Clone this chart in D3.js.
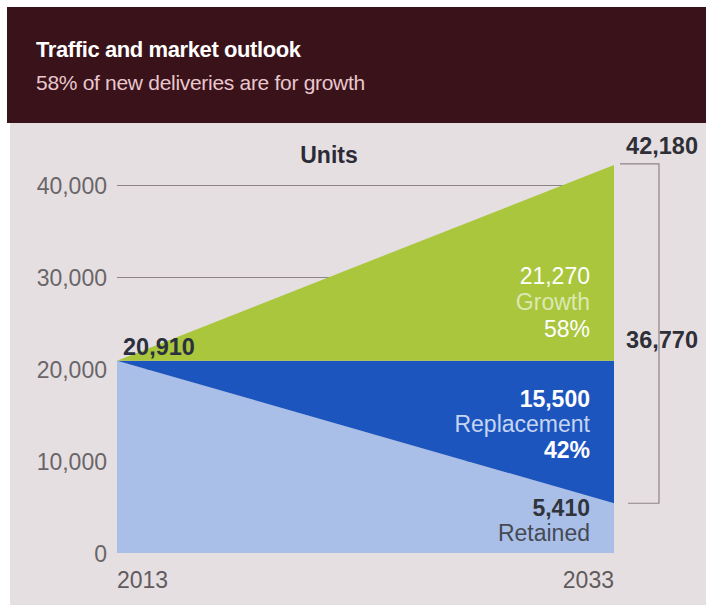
<!DOCTYPE html>
<html>
<head>
<meta charset="utf-8">
<script src="https://cdn.jsdelivr.net/npm/d3@7"></script>
<style>
  html, body { margin: 0; padding: 0; background: #ffffff; }
  svg { display: block; font-family: "Liberation Sans", Arial, Helvetica, sans-serif; }
</style>
</head>
<body>
<svg id="chart" width="706" height="605"></svg>
<script>
// ---- data ----
const years = [2013, 2033];
const retained = [20910, 5410];
const replacement = [0, 15500];
const growth = [0, 21270];
const yTicks = [0, 10000, 20000, 30000, 40000];
const seriesKeys = ["retained", "replacement", "growth"];
const seriesColors = ["#a9bfe8", "#1d55bf", "#a9c63c"];
const title = "Traffic and market outlook";
const subtitle = "58% of new deliveries are for growth";

const rows = years.map((y, i) => ({ year: y, retained: retained[i], replacement: replacement[i], growth: growth[i] }));

const svg = d3.select("#chart");
const W = 706, H = 605;
const FS = 23;

// panel + header
svg.append("rect").attr("x", 10).attr("y", 0).attr("width", W - 10).attr("height", H).attr("fill", "#e6dfe2");
svg.append("rect").attr("x", 0).attr("y", 0).attr("width", W).attr("height", 7).attr("fill", "#ffffff");
svg.append("rect").attr("x", 7).attr("y", 7).attr("width", W - 7).attr("height", 116).attr("fill", "#3a121a");
svg.append("text").attr("x", 36).attr("y", 57).attr("fill", "#ffffff")
  .attr("font-size", 22).attr("font-weight", "bold").attr("letter-spacing", -0.4).text(title);
svg.append("text").attr("x", 36).attr("y", 90).attr("fill", "#e8c7cd")
  .attr("font-size", 21).attr("letter-spacing", -0.3).text(subtitle);

// scales
const x = d3.scaleLinear().domain([years[0], years[1]]).range([117, 614]);
const y = d3.scaleLinear().domain([0, 40000]).range([553, 185]);

// gridlines via axis
const grid = svg.append("g").attr("transform", "translate(117,0)")
  .call(d3.axisRight(y).tickValues(yTicks.filter(v => v > 0)).tickSize(614 - 117).tickFormat(""));
grid.select(".domain").remove();
grid.selectAll("line").attr("stroke", "#8c8488").attr("stroke-width", 1.2);

// y-axis labels
const yAxis = svg.append("g").attr("transform", "translate(107,0)")
  .call(d3.axisLeft(y).tickValues(yTicks).tickSize(0).tickPadding(0).tickFormat(d3.format(",")));
yAxis.select(".domain").remove();
yAxis.selectAll("text").attr("font-size", FS).attr("fill", "#6a6668")
  .attr("font-family", "'Liberation Sans', Arial, sans-serif").attr("dy", "0.35em");

// stacked areas
const stack = d3.stack().keys(seriesKeys);
const stacked = stack(rows);
const area = d3.area().x(d => x(d.data.year)).y0(d => y(d[0])).y1(d => y(d[1]));
svg.append("g").selectAll("path").data(stacked).join("path")
  .attr("d", area).attr("fill", (d, i) => seriesColors[i]);

// x labels
const xAxis = svg.append("g").attr("transform", "translate(0,588)");
xAxis.append("text").attr("x", x(years[0])).attr("y", 0).attr("text-anchor", "start")
  .attr("font-size", FS).attr("fill", "#5f5b5d").text(years[0]);
xAxis.append("text").attr("x", x(years[1])).attr("y", 0).attr("text-anchor", "end")
  .attr("font-size", FS).attr("fill", "#5f5b5d").text(years[1]);

// "Units"
svg.append("text").attr("x", 329).attr("y", 163).attr("text-anchor", "middle")
  .attr("font-size", FS).attr("font-weight", "bold").attr("fill", "#2b2b38").text("Units");

// start value
const fmt = d3.format(",");
const startTotal = retained[0] + replacement[0] + growth[0];
svg.append("text").attr("x", 123).attr("y", 355).attr("font-size", FS + 0.5).attr("font-weight", "bold")
  .attr("fill", "#2a3040").text(fmt(startTotal));

// end totals and bracket
const endTotal = retained[1] + replacement[1] + growth[1];
const newDeliveries = replacement[1] + growth[1];
svg.append("text").attr("x", 698).attr("y", 154).attr("text-anchor", "end").attr("font-size", FS + 0.5)
  .attr("font-weight", "bold").attr("fill", "#2f2f38").text(fmt(endTotal));
svg.append("text").attr("x", 698).attr("y", 348).attr("text-anchor", "end").attr("font-size", FS + 0.5)
  .attr("font-weight", "bold").attr("fill", "#2f2f38").text(fmt(newDeliveries));
const bx = 659;
svg.append("path")
  .attr("d", `M620,${y(endTotal) - 1}H${bx}V${y(retained[1])}H628`)
  .attr("fill", "none").attr("stroke", "#8c8488").attr("stroke-width", 1.2);

// inside labels
const lx = 590;
function lbl(yy, txt, color, bold) {
  svg.append("text").attr("x", lx).attr("y", yy).attr("text-anchor", "end").attr("font-size", FS)
    .attr("font-weight", bold ? "bold" : "normal").attr("fill", color).text(txt);
}
lbl(284, fmt(growth[1]), "#ffffff", false);
lbl(310, "Growth", "#dde8b4", false);
lbl(337, Math.round(growth[1] / newDeliveries * 100) + "%", "#ffffff", false);
lbl(407, fmt(replacement[1]), "#ffffff", true);
lbl(432, "Replacement", "#c6d5f2", false);
lbl(458, Math.round(replacement[1] / newDeliveries * 100) + "%", "#ffffff", true);
lbl(516, fmt(retained[1]), "#30343c", true);
lbl(541, "Retained", "#454a55", false);
</script>
</body>
</html>
